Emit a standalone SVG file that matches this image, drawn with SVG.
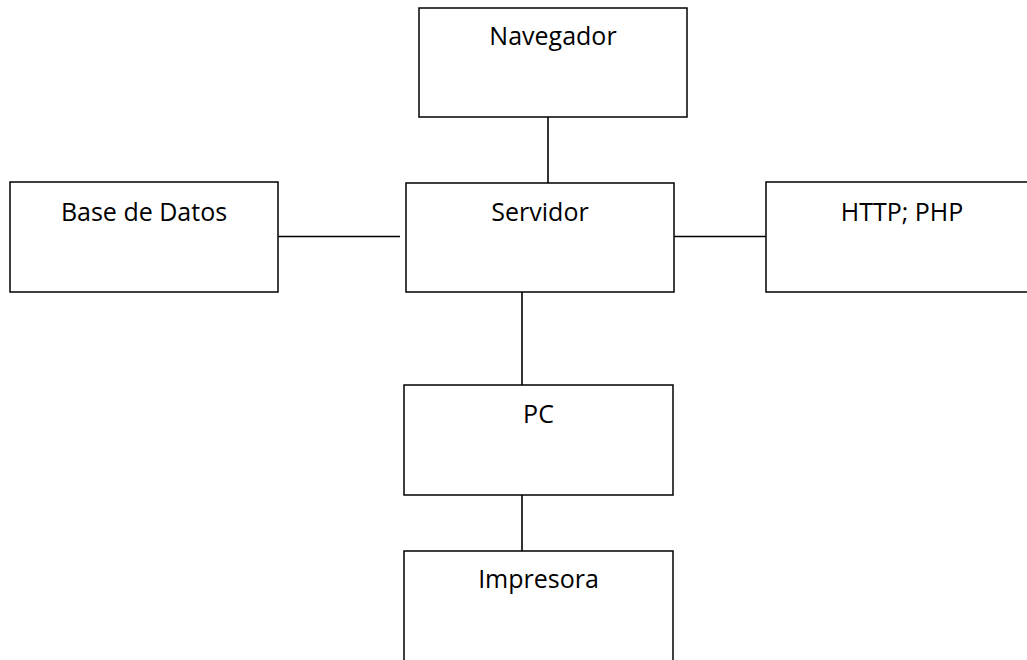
<svg xmlns="http://www.w3.org/2000/svg" width="1027" height="660" viewBox="0 0 1027 660">
  <style>
    .box { fill: #ffffff; stroke: #000000; stroke-width: 1.5; }
    .lbl { font-family: "Open Sans", "Liberation Sans", sans-serif; font-size: 25px; fill: #000000; text-anchor: middle; }
    .link { stroke: #000000; stroke-width: 1.6; fill: none; }
  </style>
  <rect width="1027" height="660" fill="#ffffff"/>

  <g id="connectors">
    <line class="link" x1="548" y1="117" x2="548" y2="183"/>
    <line class="link" x1="278" y1="236.5" x2="400" y2="236.5"/>
    <line class="link" x1="674" y1="236.5" x2="766" y2="236.5"/>
    <line class="link" x1="522" y1="292" x2="522" y2="385"/>
    <line class="link" x1="522" y1="495" x2="522" y2="551"/>
  </g>

  <g id="navegador">
    <rect class="box" x="419" y="8" width="268" height="109"/>
    <text class="lbl" x="553" y="45">Navegador</text>
  </g>

  <g id="base-de-datos">
    <rect class="box" x="10" y="182" width="268" height="110"/>
    <text class="lbl" x="144" y="221">Base de Datos</text>
  </g>

  <g id="servidor">
    <rect class="box" x="406" y="183" width="268" height="109"/>
    <text class="lbl" x="540" y="221">Servidor</text>
  </g>

  <g id="http-php">
    <rect class="box" x="766" y="182" width="268" height="110"/>
    <text class="lbl" x="902" y="221">HTTP; PHP</text>
  </g>

  <g id="pc">
    <rect class="box" x="404" y="385" width="269" height="110"/>
    <text class="lbl" x="538.5" y="423">PC</text>
  </g>

  <g id="impresora">
    <rect class="box" x="404" y="551" width="269" height="120"/>
    <text class="lbl" x="538.5" y="588">Impresora</text>
  </g>
</svg>
